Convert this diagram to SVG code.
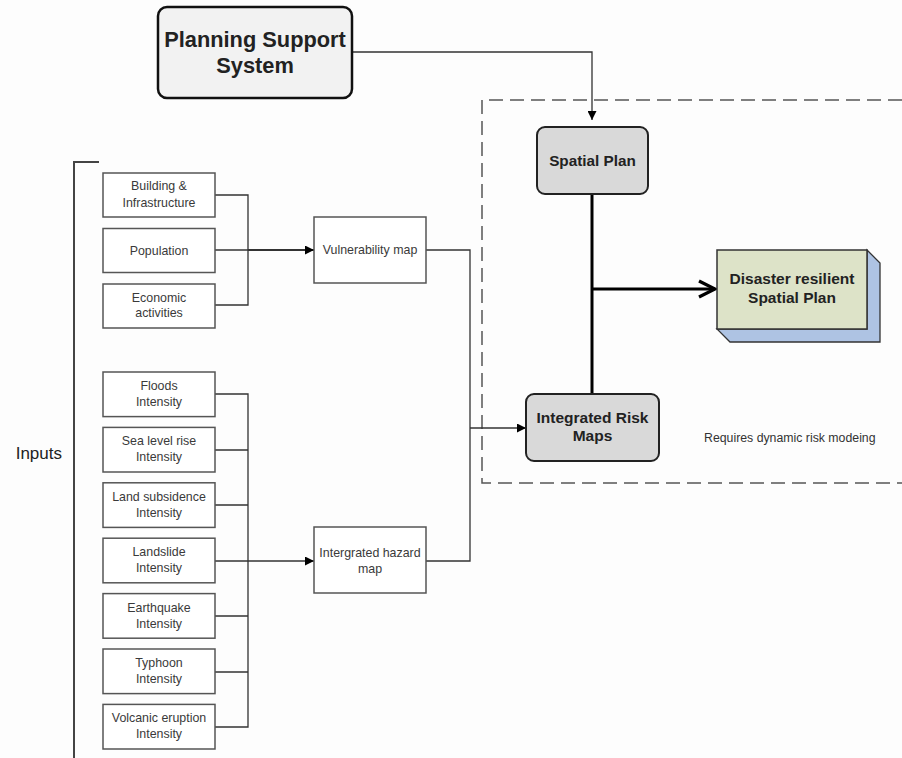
<svg xmlns="http://www.w3.org/2000/svg" width="902" height="758" viewBox="0 0 902 758">
<defs>
<style>
.bg{fill:#fdfdfd}
.in{fill:#ffffff;stroke:#555555;stroke-width:1.5}
.t{font-family:"Liberation Sans",Arial,sans-serif;font-size:12.4px;fill:#3a3a3a;text-anchor:middle}
.tb{font-family:"Liberation Sans",Arial,sans-serif;font-weight:bold;fill:#222222;text-anchor:middle}
.ln{fill:none;stroke:#333333;stroke-width:1.3}
.thick{fill:none;stroke:#000000;stroke-width:3}
.rnd{fill:#d9d9d9;stroke:#222222;stroke-width:2}
</style>
<marker id="arr" viewBox="0 0 10 10" refX="10" refY="5" markerWidth="9" markerHeight="9" markerUnits="userSpaceOnUse" orient="auto">
<path d="M0,0 L10,5 L0,10 z" fill="#000"/>
</marker>
<marker id="open" viewBox="0 0 10 10" refX="9" refY="5" markerWidth="20" markerHeight="20" markerUnits="userSpaceOnUse" orient="auto">
<path d="M1,1 L9,5 L1,9" fill="none" stroke="#000" stroke-width="1.6"/>
</marker>
</defs>
<rect class="bg" x="0" y="0" width="902" height="758"/>

<g id="dashed-region">
<path d="M902,100 H482 V483 H902" fill="none" stroke="#555555" stroke-width="1.5" stroke-dasharray="14 7"/>
</g>

<g id="inputs-bracket">
<path d="M99,162 H74 V758" fill="none" stroke="#444444" stroke-width="2"/>
<text x="62" y="459" style="font-family:'Liberation Sans',Arial,sans-serif;font-size:17px;fill:#222;text-anchor:end">Inputs</text>
</g>

<g id="connectors">
<path class="ln" d="M352,52 H592 V120" marker-end="url(#arr)"/>
<path class="ln" d="M215,195 H248 V305 H215"/>
<path class="ln" d="M215,250 H248"/>
<path class="ln" d="M248,250 H314" style="stroke-width:1.8" marker-end="url(#arr)"/>
<path class="ln" d="M426,250 H470 V561 H426"/>
<path class="ln" d="M470,428 H526" marker-end="url(#arr)"/>
<path class="ln" d="M215,394 H248 V727 H215"/>
<path class="ln" d="M215,450 H248 M215,505 H248 M215,616 H248 M215,672 H248"/>
<path class="ln" d="M215,561 H314" marker-end="url(#arr)"/>
<path class="thick" d="M592,194 V394"/>
<path class="thick" d="M592,289 H715" marker-end="url(#open)"/>
</g>

<g id="planning-support-system">
<rect x="158" y="7" width="194" height="91" rx="9" fill="#f2f2f2" stroke="#111111" stroke-width="2.5"/>
<text class="tb" x="255" y="47" style="font-size:21.8px">Planning Support</text>
<text class="tb" x="255" y="73" style="font-size:21.8px">System</text>
</g>

<g id="spatial-plan">
<rect class="rnd" x="537" y="127" width="111" height="67" rx="8"/>
<text class="tb" x="592.5" y="166" style="font-size:15.3px">Spatial Plan</text>
</g>

<g id="integrated-risk-maps">
<rect class="rnd" x="526" y="394" width="133" height="67" rx="8"/>
<text class="tb" x="592.5" y="423" style="font-size:15.5px">Integrated Risk</text>
<text class="tb" x="592.5" y="441" style="font-size:15.5px">Maps</text>
</g>

<g id="disaster-resilient-plan">
<path d="M867,250 L880,263 L880,342 L730,342 L717,329 L867,329 Z" fill="#aec3e3" stroke="#333333" stroke-width="1.3"/>
<rect x="717" y="250" width="150" height="79" fill="#dde3c8" stroke="#333333" stroke-width="1.5"/>
<text class="tb" x="792" y="284" style="font-size:15.5px">Disaster resilient</text>
<text class="tb" x="792" y="303" style="font-size:15.5px">Spatial Plan</text>
</g>

<g id="note">
<text x="704" y="442" style="font-family:'Liberation Sans',Arial,sans-serif;font-size:12.3px;fill:#333">Requires dynamic risk modeing</text>
</g>

<g id="building">
<rect class="in" x="103" y="173" width="112" height="44"/>
<text class="t" x="159" y="189.5">Building &amp;</text>
<text class="t" x="159" y="206.5">Infrastructure</text>
</g>
<g id="population">
<rect class="in" x="103" y="228.5" width="112" height="44"/>
<text class="t" x="159" y="254.5">Population</text>
</g>
<g id="economic">
<rect class="in" x="103" y="284" width="112" height="44"/>
<text class="t" x="159" y="301.5">Economic</text>
<text class="t" x="159" y="316.5">activities</text>
</g>

<g id="vulnerability-map">
<rect class="in" x="314" y="217" width="112" height="66"/>
<text class="t" x="370" y="253.5">Vulnerability map</text>
</g>
<g id="hazard-map">
<rect class="in" x="314" y="527" width="112" height="66"/>
<text class="t" x="370" y="556.5">Intergrated hazard</text>
<text class="t" x="370" y="572.5">map</text>
</g>

<g id="floods">
<rect class="in" x="103" y="372" width="112" height="44.6"/>
<text class="t" x="159" y="390">Floods</text>
<text class="t" x="159" y="406">Intensity</text>
</g>
<g id="sea-level">
<rect class="in" x="103" y="427.4" width="112" height="44.6"/>
<text class="t" x="159" y="445.4">Sea level rise</text>
<text class="t" x="159" y="461.4">Intensity</text>
</g>
<g id="land-subsidence">
<rect class="in" x="103" y="482.8" width="112" height="44.6"/>
<text class="t" x="159" y="500.8">Land subsidence</text>
<text class="t" x="159" y="516.8">Intensity</text>
</g>
<g id="landslide">
<rect class="in" x="103" y="538.2" width="112" height="44.6"/>
<text class="t" x="159" y="556.2">Landslide</text>
<text class="t" x="159" y="572.2">Intensity</text>
</g>
<g id="earthquake">
<rect class="in" x="103" y="593.6" width="112" height="44.6"/>
<text class="t" x="159" y="611.6">Earthquake</text>
<text class="t" x="159" y="627.6">Intensity</text>
</g>
<g id="typhoon">
<rect class="in" x="103" y="649" width="112" height="44.6"/>
<text class="t" x="159" y="667">Typhoon</text>
<text class="t" x="159" y="683">Intensity</text>
</g>
<g id="volcanic">
<rect class="in" x="103" y="704.4" width="112" height="44.6"/>
<text class="t" x="159" y="722.4">Volcanic eruption</text>
<text class="t" x="159" y="738.4">Intensity</text>
</g>
</svg>
